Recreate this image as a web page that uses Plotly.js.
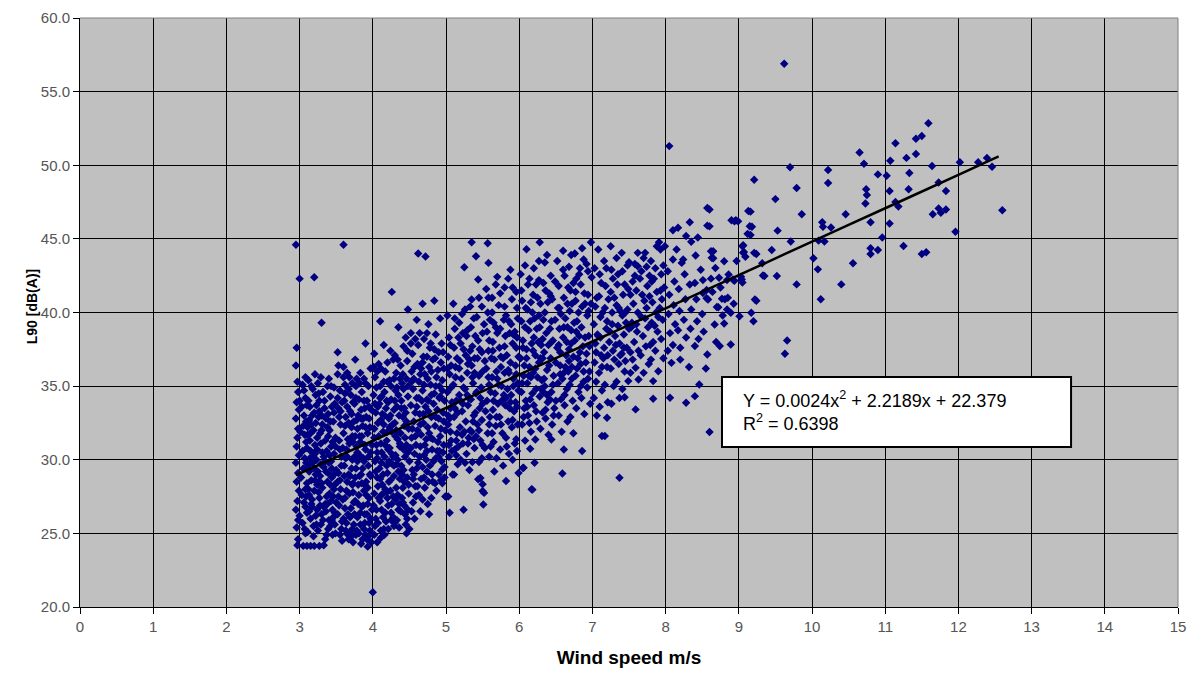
<!DOCTYPE html>
<html>
<head>
<meta charset="utf-8">
<script src="https://cdn.plot.ly/plotly-3.0.1.min.js"></script>
<style>html,body{margin:0;padding:0;background:#fff;}#chart{width:1196px;height:681px;}</style>
</head>
<body>
<div id="chart"></div>
<script>
// Measured points: [wind speed m/s, L90 dB(A)], grouped by wind-speed band
const band3 = [
[2.95,44.6],[3.0,42.3],[2.96,37.6],[2.95,36.4],[2.97,35.3],[2.98,34.6],[2.96,33.9],[2.99,33.4],[2.95,32.8],[2.98,32.1],[2.97,31.5],[2.96,30.9],[2.99,30.3],[2.95,29.8],[2.98,29.1],[2.96,28.5],[2.99,27.9],[2.97,27.2],[2.95,26.6],[2.98,25.9],[2.96,25.4],[2.98,24.6],[2.97,24.2],[3.0,34.0],[3.01,31.9],[3.02,28.8],[3.0,26.2],
[3.05,24.15],[3.1,24.15],[3.15,24.15],[3.2,24.15],[3.27,24.15],[3.33,24.2],[3.2,42.4],[3.3,39.3],[3.6,44.6],
[3.04,35.1],[3.08,34.2],[3.06,33.0],[3.05,32.3],[3.09,31.2],[3.07,30.1],[3.05,29.4],[3.08,28.0],[3.06,27.1],[3.1,26.4],[3.07,25.3],[3.12,35.4],[3.14,33.6],[3.13,32.7],[3.11,31.7],[3.15,30.6],[3.12,29.6],[3.16,28.6],[3.13,27.6],[3.15,26.0],[3.11,25.1],[3.18,34.8],[3.2,33.2],[3.19,32.0],[3.21,31.0],[3.18,30.2],[3.22,29.0],[3.2,27.9],[3.17,26.8],[3.23,25.6],[3.19,24.8],[3.25,35.2],[3.27,34.0],[3.26,32.9],[3.28,31.8],[3.24,30.7],[3.29,29.7],[3.26,28.5],[3.27,27.4],[3.3,26.3],[3.25,25.2],[3.32,34.6],[3.34,33.5],[3.31,32.4],[3.35,31.3],[3.33,30.2],[3.36,29.2],[3.31,28.1],[3.35,27.0],[3.32,25.9],[3.37,24.9],[3.4,35.5],[3.42,34.3],[3.39,33.1],[3.41,32.0],[3.43,30.9],[3.4,29.8],[3.44,28.8],[3.41,27.7],[3.45,26.6],[3.42,25.5],[3.47,34.9],[3.48,33.8],[3.46,32.6],[3.49,31.5],[3.47,30.4],[3.5,29.3],[3.48,28.3],[3.5,27.1],[3.46,26.1],[3.49,25.0],
[3.06,34.7],[3.1,33.7],[3.09,32.6],[3.14,31.3],[3.1,30.8],[3.13,29.2],[3.1,28.4],[3.17,27.3],[3.08,26.8],[3.22,34.4],[3.23,33.7],[3.16,32.4],[3.24,31.5],[3.21,30.4],[3.2,29.4],[3.24,28.3],[3.28,26.9],[3.3,33.0],[3.29,31.1],[3.37,30.6],[3.33,29.5],[3.38,28.5],[3.28,28.9],[3.37,27.5],[3.36,26.5],[3.44,33.6],[3.38,32.2],[3.45,31.2],[3.41,30.3],[3.44,29.4],[3.47,28.0],[3.43,27.2],[3.48,26.4],[3.4,25.9],[3.45,24.9],
[3.52,35.8],[3.55,34.7],[3.53,33.5],[3.56,32.4],[3.54,31.3],[3.57,30.2],[3.53,29.1],[3.56,28.0],[3.54,26.9],[3.58,25.8],[3.55,24.9],[3.6,36.3],[3.62,35.1],[3.61,34.0],[3.63,32.9],[3.6,31.8],[3.64,30.7],[3.61,29.6],[3.65,28.5],[3.62,27.4],[3.66,26.3],[3.63,25.2],[3.67,24.6],[3.68,35.6],[3.7,34.4],[3.69,33.3],[3.71,32.2],[3.68,31.1],[3.72,30.0],[3.69,28.9],[3.73,27.8],[3.7,26.7],[3.74,25.6],[3.71,24.8],[3.76,36.8],[3.77,35.0],[3.75,33.8],[3.78,32.7],[3.76,31.6],[3.79,30.5],[3.77,29.4],[3.8,28.3],[3.76,27.2],[3.79,26.1],[3.81,25.0],[3.83,35.9],[3.85,34.6],[3.84,33.4],[3.86,32.3],[3.83,31.2],[3.87,30.1],[3.84,29.0],[3.88,27.9],[3.85,26.8],[3.89,25.7],[3.86,24.6],[3.9,35.2],[3.92,34.0],[3.91,32.9],[3.93,31.8],[3.9,30.7],[3.94,29.6],[3.91,28.5],[3.95,27.4],[3.92,26.3],[3.96,25.2],[3.93,24.1],[3.97,36.2],[3.98,33.4],[3.99,31.0],[3.97,28.9],[3.99,26.6],[3.98,24.4],
[3.58,33.9],[3.54,32.9],[3.59,30.8],[3.57,29.6],[3.52,28.5],[3.59,27.3],[3.52,26.3],[3.65,33.6],[3.66,31.4],[3.63,30.1],[3.67,29.0],[3.64,27.9],[3.6,26.0],[3.66,24.9],[3.73,33.9],[3.74,32.6],[3.72,31.6],[3.75,30.2],[3.73,28.4],[3.74,27.1],[3.72,25.3],[3.81,34.1],[3.8,33.0],[3.82,31.6],[3.79,29.9],[3.82,28.9],[3.81,27.6],[3.83,26.4],[3.78,25.2],[3.88,34.0],[3.87,32.8],[3.89,31.0],[3.86,29.4],[3.89,28.3],[3.87,26.9],[3.88,25.3],[3.95,33.6],[3.96,32.2],[3.94,30.2],[3.96,29.0],[3.93,27.0],[3.95,25.7],[3.9,24.9],[3.52,37.3],[3.9,37.9],
[3.03,33.6],[3.04,30.6],[3.03,27.6],[3.04,25.7],[3.08,35.6],[3.07,31.7],[3.09,29.8],[3.09,27.5],[3.08,25.0],[3.12,34.0],[3.11,32.2],[3.14,30.1],[3.12,28.0],[3.13,26.5],[3.16,35.0],[3.17,33.0],[3.15,31.8],[3.18,29.8],[3.16,27.0],[3.19,25.5],[3.21,35.8],[3.22,32.5],[3.23,30.0],[3.21,28.6],[3.22,26.2],[3.26,34.5],[3.27,33.3],[3.25,29.2],[3.26,27.8],[3.24,26.6],[3.29,35.6],[3.3,32.0],[3.31,30.5],[3.3,28.4],[3.29,25.6],[3.34,34.0],[3.36,32.8],[3.35,29.9],[3.33,26.8],[3.35,24.6],[3.38,35.0],[3.39,31.6],[3.39,29.1],[3.38,27.0],[3.39,25.3],[3.43,35.0],[3.42,32.6],[3.43,29.9],[3.42,28.3],[3.44,25.9],[3.47,33.2],[3.49,30.9],[3.47,29.0],[3.46,27.5],[3.48,25.6],
[3.53,36.4],[3.52,34.2],[3.56,33.3],[3.55,30.7],[3.55,28.6],[3.53,27.5],[3.57,25.3],[3.58,24.5],[3.6,35.6],[3.62,34.5],[3.62,32.3],[3.61,28.9],[3.62,26.7],[3.64,25.7],[3.65,35.9],[3.67,34.8],[3.67,32.5],[3.65,30.2],[3.68,27.7],[3.69,26.1],[3.7,25.0],[3.72,35.2],[3.71,33.1],[3.73,31.2],[3.71,29.4],[3.72,28.3],[3.75,26.3],[3.73,24.4],[3.78,35.5],[3.77,34.2],[3.79,32.1],[3.78,30.9],[3.76,28.8],[3.8,27.0],[3.77,24.9],[3.82,35.2],[3.84,32.8],[3.85,31.6],[3.82,30.3],[3.85,28.4],[3.83,25.6],[3.84,24.3],[3.88,35.5],[3.89,33.5],[3.9,32.2],[3.88,29.9],[3.91,27.6],[3.89,26.3],[3.92,24.6],[3.94,35.0],[3.95,32.8],[3.97,30.5],[3.93,28.1],[3.97,26.0],[3.96,24.9]
];
const band4 = [
[4.0,21.0],
[4.02,37.2],[4.03,35.6],[4.01,34.4],[4.04,33.2],[4.02,32.1],[4.05,31.0],[4.03,29.9],[4.06,28.8],[4.02,27.7],[4.05,26.6],[4.03,25.5],[4.06,24.4],[4.08,36.5],[4.1,35.0],[4.09,33.8],[4.11,32.7],[4.08,31.6],[4.12,30.5],[4.09,29.4],[4.13,28.3],[4.1,27.2],[4.14,26.1],[4.11,25.2],[4.15,37.8],[4.17,36.0],[4.16,34.6],[4.18,33.5],[4.15,32.4],[4.19,31.3],[4.16,30.2],[4.2,29.1],[4.17,28.0],[4.21,26.9],[4.18,25.8],[4.16,24.9],[4.23,35.4],[4.25,34.1],[4.24,33.0],[4.26,31.9],[4.23,30.8],[4.27,29.7],[4.24,28.6],[4.28,27.5],[4.25,26.4],[4.29,25.5],[4.26,41.4],[4.3,37.1],[4.32,35.9],[4.31,34.7],[4.33,33.6],[4.3,32.5],[4.34,31.4],[4.31,30.3],[4.35,29.2],[4.32,28.1],[4.36,27.0],[4.33,25.9],[4.38,36.4],[4.4,35.2],[4.39,34.0],[4.41,32.9],[4.38,31.8],[4.42,30.7],[4.39,29.6],[4.43,28.5],[4.4,27.4],[4.44,26.3],[4.46,25.0],[4.45,38.3],[4.47,36.7],[4.46,35.5],[4.48,34.3],[4.45,33.2],[4.49,32.1],[4.46,31.0],[4.5,29.9],[4.47,28.8],[4.49,27.7],[4.48,26.6],
[4.05,34.9],[4.07,33.6],[4.06,30.5],[4.07,28.2],[4.04,26.0],[4.12,34.3],[4.13,33.1],[4.14,31.9],[4.12,29.8],[4.14,27.7],[4.12,26.6],[4.2,35.3],[4.21,33.9],[4.22,32.8],[4.21,30.7],[4.19,29.6],[4.22,28.5],[4.2,27.4],[4.28,36.8],[4.29,33.4],[4.27,32.4],[4.28,30.2],[4.29,28.9],[4.26,27.0],[4.35,34.4],[4.36,33.0],[4.37,31.1],[4.34,30.0],[4.37,28.7],[4.35,26.6],[4.42,34.8],[4.43,33.5],[4.44,31.5],[4.42,29.3],[4.41,28.1],[4.43,26.9],[4.3,25.7],[4.1,39.4],[4.35,39.0],[4.48,40.2],
[4.52,38.6],[4.54,37.2],[4.53,36.0],[4.55,34.8],[4.52,33.7],[4.56,32.6],[4.53,31.5],[4.57,30.4],[4.54,29.3],[4.58,28.2],[4.55,27.1],[4.57,26.0],[4.62,44.0],[4.6,39.5],[4.62,37.8],[4.61,36.5],[4.63,35.3],[4.6,34.2],[4.64,33.1],[4.61,32.0],[4.65,30.9],[4.62,29.8],[4.66,28.7],[4.63,27.6],[4.65,26.5],[4.72,43.8],[4.68,40.6],[4.7,38.2],[4.69,37.0],[4.71,35.8],[4.68,34.7],[4.72,33.6],[4.69,32.5],[4.73,31.4],[4.7,30.3],[4.74,29.2],[4.71,28.1],[4.75,27.0],[4.77,26.3],[4.76,39.2],[4.78,37.6],[4.77,36.3],[4.79,35.1],[4.76,34.0],[4.8,32.9],[4.77,31.8],[4.81,30.7],[4.78,29.6],[4.82,28.5],[4.8,27.4],[4.84,40.8],[4.86,38.5],[4.85,36.9],[4.87,35.6],[4.84,34.5],[4.88,33.4],[4.85,32.3],[4.89,31.2],[4.86,30.1],[4.9,29.0],[4.87,27.9],[4.92,39.6],[4.94,37.9],[4.93,36.6],[4.95,35.4],[4.92,34.3],[4.96,33.2],[4.93,32.1],[4.97,31.0],[4.94,29.9],[4.98,28.8],[4.95,29.34],[4.95,28.4],[4.99,27.5],
[4.56,35.5],[4.58,33.2],[4.59,31.0],[4.56,29.0],[4.66,36.2],[4.67,34.0],[4.66,31.7],[4.68,29.5],[4.74,37.0],[4.74,34.1],[4.75,32.2],[4.73,30.0],[4.82,36.8],[4.83,33.8],[4.82,31.4],[4.83,29.9],[4.9,37.3],[4.91,35.0],[4.9,32.8],[4.91,30.6],[4.97,36.2],[4.98,34.0],[4.99,32.0],[4.5,25.3],
[4.01,36.3],[4.03,33.8],[4.02,31.5],[4.04,29.2],[4.01,26.9],[4.02,24.9],[4.06,36.0],[4.07,32.5],[4.06,30.1],[4.08,27.4],[4.07,25.7],[4.11,36.2],[4.1,34.2],[4.11,31.1],[4.1,28.7],[4.12,27.6],[4.11,24.7],[4.15,35.3],[4.16,33.0],[4.17,31.0],[4.14,29.0],[4.17,26.4],[4.15,25.3],[4.2,36.6],[4.19,34.0],[4.2,31.9],[4.22,29.9],[4.19,27.8],[4.21,25.3],[4.24,37.4],[4.25,35.0],[4.23,32.2],[4.26,30.4],[4.24,27.9],[4.25,25.9],[4.29,35.5],[4.3,34.0],[4.31,31.6],[4.29,29.6],[4.31,27.3],[4.28,26.1],[4.34,36.8],[4.33,34.9],[4.32,32.0],[4.33,29.7],[4.34,27.6],[4.36,25.4],[4.37,35.5],[4.39,33.5],[4.37,30.9],[4.4,29.0],[4.38,26.5],[4.42,37.7],[4.41,35.8],[4.43,32.3],[4.44,30.2],[4.41,27.1],[4.45,25.6],[4.47,37.4],[4.48,35.0],[4.46,32.6],[4.48,30.5],[4.49,28.3],[4.47,26.0],
[4.52,37.9],[4.53,35.3],[4.54,32.1],[4.52,30.8],[4.55,28.7],[4.53,26.5],[4.58,38.2],[4.57,36.3],[4.6,33.6],[4.58,31.6],[4.6,29.4],[4.59,27.5],[4.64,38.6],[4.65,35.8],[4.63,34.2],[4.65,32.4],[4.64,30.2],[4.61,28.2],[4.68,36.6],[4.7,35.1],[4.69,33.1],[4.71,31.0],[4.7,28.8],[4.68,27.3],[4.74,38.6],[4.75,35.5],[4.76,33.3],[4.74,30.6],[4.76,28.5],[4.79,37.9],[4.8,36.0],[4.8,34.4],[4.79,31.5],[4.81,29.0],[4.84,37.5],[4.86,35.0],[4.86,32.9],[4.88,30.6],[4.85,28.4],[4.89,36.1],[4.91,34.2],[4.92,31.6],[4.9,30.2],[4.93,28.6],[4.96,37.3],[4.95,34.7],[4.97,32.6],[4.96,30.5],[4.98,29.5]
];
const band5 = [
[5.02,39.8],[5.04,38.3],[5.03,37.0],[5.05,35.8],[5.02,34.6],[5.06,33.5],[5.03,32.4],[5.07,31.3],[5.04,30.2],[5.09,29.0],[5.05,26.4],[5.03,27.5],[5.1,40.6],[5.12,38.9],[5.11,37.6],[5.13,36.3],[5.1,35.1],[5.14,34.0],[5.11,32.9],[5.15,31.8],[5.12,30.7],[5.11,28.99],[5.16,29.7],[5.18,39.3],[5.2,37.9],[5.19,36.7],[5.21,35.5],[5.18,34.4],[5.22,33.3],[5.19,32.2],[5.23,31.1],[5.2,30.0],[5.24,26.6],[5.25,43.08],[5.26,40.2],[5.28,38.4],[5.27,37.1],[5.29,35.9],[5.26,34.8],[5.3,33.7],[5.27,32.6],[5.31,31.5],[5.28,30.4],[5.32,29.3],[5.35,44.77],[5.35,40.88],[5.34,39.0],[5.36,37.7],[5.35,36.4],[5.37,35.2],[5.34,34.1],[5.38,33.0],[5.35,31.9],[5.39,30.8],[5.36,29.84],[5.41,43.82],[5.44,42.24],[5.42,39.7],[5.44,38.1],[5.43,36.9],[5.45,35.7],[5.42,34.6],[5.46,33.5],[5.43,32.4],[5.47,31.3],[5.45,29.84],[5.44,28.67],[5.47,28.76],[5.5,27.88],[5.5,28.33],[5.51,26.96],[5.52,27.75],[5.49,40.4],[5.5,38.6],[5.49,37.3],[5.5,36.0],[5.48,34.9],[5.5,33.8],[5.49,32.7],[5.5,31.0],[5.49,30.1],
[5.07,36.4],[5.08,33.9],[5.06,31.9],[5.15,36.9],[5.16,33.2],[5.14,30.3],[5.23,38.6],[5.24,34.9],[5.22,31.7],[5.32,36.8],[5.31,34.2],[5.33,32.0],[5.4,38.4],[5.39,35.9],[5.4,33.2],[5.41,31.6],[5.57,44.7],
[5.58,43.37],[5.55,41.6],[5.57,40.0],[5.56,38.7],[5.58,37.4],[5.55,36.2],[5.59,35.1],[5.56,34.0],[5.6,32.9],[5.57,31.8],[5.61,30.9],[5.59,30.2],[5.7,42.42],[5.63,41.0],[5.65,39.3],[5.64,38.0],[5.66,36.8],[5.63,35.6],[5.67,34.5],[5.64,33.4],[5.68,32.3],[5.65,31.2],[5.69,30.1],[5.66,29.2],[5.72,40.5],[5.74,38.9],[5.73,37.6],[5.75,36.3],[5.72,35.1],[5.76,34.0],[5.73,32.9],[5.77,31.8],[5.74,30.7],[5.78,29.6],[5.82,28.55],[5.8,41.7],[5.82,39.8],[5.81,38.4],[5.83,37.1],[5.8,35.9],[5.84,34.8],[5.81,33.7],[5.85,32.6],[5.82,31.5],[5.86,30.4],[5.88,42.9],[5.9,40.9],[5.89,39.2],[5.91,37.9],[5.88,36.6],[5.92,35.5],[5.89,34.4],[5.93,33.3],[5.9,32.2],[5.94,31.1],[5.91,30.0],[5.96,41.4],[5.98,39.6],[5.97,38.3],[5.99,37.0],[5.96,35.8],[5.99,34.7],[5.97,33.6],[5.98,32.4],[5.96,31.4],[5.99,29.1],
[5.6,39.5],[5.62,36.9],[5.61,34.6],[5.7,38.6],[5.69,36.0],[5.71,33.8],[5.79,39.5],[5.78,36.9],[5.79,34.4],[5.87,38.6],[5.86,35.9],[5.87,33.5],[5.94,38.7],[5.95,36.4],[5.95,33.9],
[5.02,36.2],[5.03,33.0],[5.04,31.0],[5.06,37.8],[5.07,34.9],[5.05,32.8],[5.08,30.6],[5.12,39.6],[5.13,35.6],[5.12,33.5],[5.14,31.3],[5.17,38.3],[5.18,36.2],[5.2,34.0],[5.17,30.9],[5.22,39.9],[5.24,37.5],[5.23,33.8],[5.25,31.9],[5.26,29.8],[5.29,38.8],[5.3,36.5],[5.29,34.4],[5.3,31.1],[5.33,40.4],[5.33,37.4],[5.36,35.6],[5.37,32.6],[5.38,39.6],[5.39,36.9],[5.41,34.5],[5.38,31.4],[5.45,41.0],[5.46,37.5],[5.47,34.2],[5.45,32.0],[5.52,39.2],[5.53,36.7],[5.54,33.3],[5.53,30.8],[5.58,41.0],[5.59,38.1],[5.58,35.6],[5.59,32.4],[5.63,40.0],[5.64,37.4],[5.65,34.0],[5.63,31.8],[5.68,41.9],[5.68,39.0],[5.7,35.5],[5.69,32.9],[5.74,41.3],[5.75,37.0],[5.76,35.0],[5.75,32.4],[5.8,40.4],[5.8,37.7],[5.82,34.2],[5.83,30.9],[5.85,42.3],[5.86,39.4],[5.85,36.1],[5.88,33.9],[5.91,41.7],[5.92,38.5],[5.92,35.0],[5.91,32.7],[5.97,40.3],[5.96,37.6],[5.98,35.2],[5.97,30.6]
];
const band6 = [
[6.02,42.6],[6.04,40.8],[6.03,39.4],[6.05,38.1],[6.02,36.9],[6.06,35.7],[6.03,34.6],[6.07,33.5],[6.04,32.4],[6.08,31.3],[6.05,29.44],[6.06,29.46],[6.1,44.3],[6.12,41.9],[6.11,40.2],[6.13,38.8],[6.1,37.5],[6.14,36.3],[6.11,35.2],[6.15,34.1],[6.12,33.0],[6.16,31.9],[6.15,30.75],[6.17,28.0],[6.18,27.97],[6.2,43.0],[6.19,41.2],[6.21,39.6],[6.2,38.3],[6.22,37.1],[6.19,35.9],[6.23,34.8],[6.2,33.7],[6.24,32.6],[6.22,31.38],[6.21,29.8],[6.28,44.77],[6.27,42.2],[6.29,40.6],[6.28,39.0],[6.3,37.8],[6.27,36.6],[6.31,35.4],[6.28,34.3],[6.32,33.2],[6.29,32.1],[6.35,43.4],[6.36,41.5],[6.35,40.0],[6.37,38.6],[6.34,37.3],[6.38,36.1],[6.35,35.0],[6.39,33.9],[6.36,32.8],[6.4,31.7],[6.44,31.38],[6.43,42.5],[6.45,40.9],[6.44,39.4],[6.46,38.1],[6.43,36.9],[6.47,35.7],[6.44,34.6],[6.48,33.5],[6.45,32.4],
[6.08,39.0],[6.07,36.4],[6.09,34.0],[6.16,40.7],[6.17,37.9],[6.16,35.6],[6.25,41.0],[6.26,38.0],[6.25,35.6],[6.33,39.5],[6.32,36.9],[6.33,34.6],[6.41,41.3],[6.42,38.9],[6.41,36.4],[6.42,34.1],
[6.52,43.5],[6.54,41.8],[6.53,40.3],[6.55,38.9],[6.52,37.6],[6.56,36.4],[6.53,35.2],[6.57,34.1],[6.54,33.0],[6.58,31.9],[6.61,30.7],[6.59,29.07],[6.6,44.2],[6.62,42.5],[6.61,41.0],[6.63,39.6],[6.6,38.3],[6.64,37.1],[6.61,35.9],[6.65,34.8],[6.62,33.7],[6.66,32.6],[6.68,43.1],[6.7,41.5],[6.69,40.1],[6.71,38.8],[6.68,37.5],[6.72,36.3],[6.69,35.1],[6.73,34.0],[6.7,32.9],[6.74,31.8],[6.76,44.0],[6.78,42.3],[6.77,40.8],[6.79,39.4],[6.76,38.1],[6.8,36.9],[6.77,35.7],[6.81,34.6],[6.78,33.5],[6.86,44.37],[6.84,41.9],[6.86,40.4],[6.85,39.0],[6.87,37.7],[6.84,36.5],[6.88,35.3],[6.85,34.2],[6.89,33.1],[6.86,30.59],[6.92,43.3],[6.94,41.2],[6.93,39.8],[6.95,38.4],[6.92,37.2],[6.96,36.0],[6.93,34.9],[6.97,33.8],[6.98,44.77],[6.99,42.4],[6.98,40.6],
[6.57,39.9],[6.56,37.3],[6.59,35.5],[6.66,40.6],[6.65,38.0],[6.67,36.0],[6.74,42.0],[6.75,39.3],[6.74,37.0],[6.83,43.0],[6.82,38.4],[6.9,40.6],[6.91,36.6],
[6.03,41.5],[6.05,37.6],[6.04,35.2],[6.06,32.9],[6.08,43.2],[6.09,40.3],[6.1,36.9],[6.11,33.6],[6.14,42.3],[6.15,39.4],[6.13,35.7],[6.14,32.5],[6.18,40.0],[6.19,37.4],[6.18,34.5],[6.23,41.9],[6.24,38.9],[6.22,36.2],[6.23,33.3],[6.27,43.5],[6.27,39.8],[6.29,36.9],[6.3,34.8],[6.33,42.0],[6.32,38.2],[6.34,35.5],[6.36,33.4],[6.38,43.9],[6.39,40.7],[6.4,37.8],[6.38,34.4],[6.43,41.1],[6.44,38.0],[6.46,35.1],[6.47,33.0],[6.49,42.1],[6.49,39.5],[6.5,36.6],[6.5,34.0],[6.55,40.3],[6.54,37.8],[6.56,35.8],[6.6,42.9],[6.61,39.0],[6.63,36.3],[6.62,34.4],[6.67,41.7],[6.66,39.0],[6.68,36.7],[6.71,43.9],[6.72,40.6],[6.71,37.9],[6.72,35.5],[6.77,41.4],[6.78,38.7],[6.79,36.2],[6.82,42.6],[6.81,40.0],[6.83,37.3],[6.84,35.0],[6.88,43.6],[6.89,41.3],[6.9,38.3],[6.88,36.0],[6.94,42.8],[6.95,40.1],[6.96,37.7],[6.94,35.5]
];
const band7 = [
[7.02,39.2],[7.04,37.9],[7.03,36.6],[7.05,35.3],[7.02,34.2],[7.06,33.0],[7.08,44.28],[7.1,42.6],[7.09,41.1],[7.11,39.7],[7.08,38.4],[7.12,37.1],[7.09,35.9],[7.13,34.7],[7.1,33.6],[7.13,31.61],[7.17,31.61],[7.2,32.85],[7.16,43.5],[7.18,41.8],[7.17,40.3],[7.19,38.9],[7.16,37.6],[7.2,36.3],[7.17,35.1],[7.21,33.9],[7.25,44.5],[7.26,42.9],[7.25,41.4],[7.27,40.0],[7.24,38.7],[7.28,37.4],[7.25,36.2],[7.29,35.0],[7.26,33.8],[7.33,43.7],[7.34,41.9],[7.33,40.5],[7.35,39.1],[7.32,37.8],[7.36,36.5],[7.33,35.3],[7.37,34.2],[7.37,28.78],[7.4,44.05],[7.41,42.8],[7.42,41.2],[7.41,39.8],[7.43,38.5],[7.4,37.2],[7.44,36.0],[7.41,34.8],[7.44,34.25],[7.48,43.2],[7.5,43.42],[7.49,41.6],[7.48,40.2],[7.5,38.9],[7.47,37.6],[7.49,35.34],[7.52,35.9],
[7.06,41.0],[7.07,38.5],[7.14,40.0],[7.15,36.9],[7.22,40.9],[7.23,38.0],[7.3,41.0],[7.31,38.4],[7.38,40.1],[7.38,37.1],[7.46,39.3],[7.45,36.7],
[7.62,44.05],[7.72,44.05],[7.62,43.14],[7.91,44.77],[7.88,44.5],[7.93,44.28],[7.59,33.42],[7.63,35.45],[7.59,36.24],[7.83,34.14],[7.83,35.34],[7.9,36.01],[7.55,42.1],[7.56,40.6],[7.54,39.3],[7.57,38.0],[7.55,36.8],[7.6,41.5],[7.62,40.0],[7.61,38.7],[7.63,37.4],[7.67,42.8],[7.68,41.2],[7.67,39.7],[7.69,38.4],[7.66,37.1],[7.7,35.9],[7.74,43.1],[7.75,41.8],[7.74,40.3],[7.76,39.0],[7.73,37.7],[7.77,36.5],[7.8,43.5],[7.81,42.1],[7.82,40.7],[7.81,39.3],[7.83,38.0],[7.8,36.8],[7.86,43.0],[7.88,41.4],[7.87,40.0],[7.89,38.7],[7.86,37.4],[7.94,42.6],[7.95,40.9],[7.96,39.5],[7.94,38.2],[7.97,36.9],[7.99,44.5],[7.98,41.7],
[7.58,43.3],[7.65,42.3],[7.71,40.8],[7.78,42.5],[7.85,39.1],[7.92,40.3],[7.97,43.2],
[7.03,43.0],[7.04,40.4],[7.05,37.3],[7.12,42.0],[7.11,38.3],[7.13,36.3],[7.19,43.0],[7.2,39.4],[7.21,37.1],[7.28,42.3],[7.27,39.2],[7.3,36.8],[7.35,42.6],[7.36,40.3],[7.37,37.9],[7.44,41.9],[7.45,40.0],[7.43,37.6],[7.52,41.2],[7.53,39.0],[7.52,37.3],[7.58,42.5],[7.6,39.2],[7.7,43.7],[7.72,39.6],[7.78,41.1],[7.79,37.8],[7.84,42.3],[7.9,39.7],[7.93,41.5]
];
const band8 = [
[8.05,51.3],[8.57,47.1],[8.33,46.13],[8.17,45.75],[8.1,45.59],[8.57,45.9],[8.6,47.0],[8.6,45.85],[8.15,44.28],[8.24,43.6],[8.22,43.37],[8.41,43.87],[8.62,44.16],[8.63,43.71],[8.8,43.48],[8.86,42.58],[8.92,42.24],[8.65,44.16],[8.65,43.68],[8.68,43.02],[8.51,42.2],[8.73,42.36],[8.84,42.2],[8.94,42.16],[8.94,46.2],[8.99,46.2],[8.96,46.27],[8.9,46.27],[8.56,41.53],[8.56,40.97],[8.81,40.9],[8.72,40.35],[8.84,40.2],[8.4,42.01],[8.51,41.33],[8.58,40.88],[8.77,40.93],[8.7,40.38],[8.67,39.19],[8.8,39.25],[8.89,39.98],[8.89,37.83],[8.74,37.72],[8.57,37.15],[8.4,37.72],[8.2,36.8],[8.08,36.58],[8.46,35.11],[8.4,34.32],[8.28,33.87],[8.06,34.21],[8.6,31.88],
[8.03,42.8],[8.05,41.2],[8.04,39.9],[8.06,38.6],[8.03,37.4],[8.1,43.6],[8.12,42.1],[8.11,40.5],[8.13,39.2],[8.1,37.8],[8.18,41.6],[8.19,40.1],[8.17,38.8],[8.2,37.6],[8.26,42.6],[8.27,40.9],[8.25,39.5],[8.28,38.3],[8.33,41.9],[8.35,40.2],[8.34,38.9],[8.32,36.3],[8.42,40.9],[8.43,39.4],[8.45,38.2],[8.48,42.9],[8.5,39.9],[8.52,38.7],[8.55,36.2],[8.62,42.3],[8.64,41.4],[8.69,38.0],[8.75,41.7],[8.78,39.8],[8.85,41.0],[8.93,40.6],[8.97,43.5],[8.35,44.8],[8.44,45.1],[8.28,45.2]
];
const band9 = [
[9.62,56.9],[9.21,49.02],[9.7,49.86],[9.5,47.7],[9.79,48.45],[9.16,46.85],[9.86,46.67],[9.18,45.83],[9.16,45.27],[9.53,45.56],[9.71,44.82],[9.06,44.56],[9.07,44.11],[9.09,43.79],[9.24,43.97],[9.45,44.24],[9.03,42.43],[9.05,42.03],[9.32,43.34],[9.35,42.48],[9.52,42.48],[9.79,41.91],[9.24,40.8],[9.13,46.9],[9.15,45.86],[9.12,45.34],[9.05,44.5],[9.06,44.05],[9.21,44.05],[9.33,42.51],[9.04,42.24],[9.22,40.88],[9.17,39.98],[9.2,39.41],[9.01,39.75],[9.63,37.2],[9.66,38.1],[9.56,34.9]
];
const band10 = [
[10.22,49.68],[10.22,48.8],[10.02,43.68],[10.08,42.93],[10.09,44.88],[10.17,44.82],[10.14,46.13],[10.15,45.83],[10.26,45.77],[10.4,41.91],[10.12,40.9],[10.56,43.34],[10.46,46.67],[10.65,50.87],[10.71,50.1],[10.74,48.37],[10.75,47.98],[10.73,47.4],[10.8,46.13],[10.8,44.36],[10.8,43.97],[10.9,44.24],[10.9,49.38],[11.02,49.29],[10.96,45.1],[11.07,50.3],[11.06,48.25],[11.06,46.04],[11.14,51.5],[11.14,47.5],[11.18,47.2],[11.25,44.52],[11.29,50.5],[11.33,49.47],[11.32,48.37],[11.42,51.8],[11.42,50.76],[11.5,51.99],[11.5,43.97],[11.56,44.09],[11.59,52.85],[11.64,49.95],[11.65,46.67],[11.73,48.83],[11.73,47.07],[11.76,46.78],[11.83,48.25],[11.83,47.0],[11.96,45.49],[12.02,50.2],[12.27,50.2],[12.39,50.5],[12.46,49.9],[12.6,46.94]
];

// Polynomial trendline values as printed on the chart (Y = 0.0024x^2 + 2.2189x + 22.379)
const trendSpeed = [2.95, 4, 5, 6, 7, 8, 9, 10, 11, 12, 12.55];
const trendLevel = [28.95, 31.29, 33.53, 35.78, 38.03, 40.28, 42.54, 44.81, 47.08, 49.35, 50.60];

const xTickVals = [0,1,2,3,4,5,6,7,8,9,10,11,12,13,14,15];
const yTickVals = [20,25,30,35,40,45,50,55,60];
const xTitle = 'Wind speed m/s';
const yTitle = 'L90 [dB(A)]';
const eqText = 'Y = 0.0024x<sup>2</sup> + 2.2189x + 22.379<br>R<sup>2</sup> = 0.6398';

const allPts = [].concat(band3, band4, band5, band6, band7, band8, band9, band10);
const windSpeed = allPts.map(p => p[0]);
const l90 = allPts.map(p => p[1]);

const font = 'Liberation Sans, Arial, sans-serif';

const traces = [
  {
    type: 'scatter', mode: 'markers', x: windSpeed, y: l90,
    marker: {symbol: 'diamond', size: 6.5, color: '#000080'},
    hoverinfo: 'x+y', showlegend: false
  },
  {
    type: 'scatter', mode: 'lines', x: trendSpeed, y: trendLevel,
    line: {color: '#000000', width: 2.5, shape: 'spline'},
    showlegend: false
  }
];

const layout = {
  width: 1196, height: 681,
  paper_bgcolor: '#ffffff', plot_bgcolor: '#c0c0c0',
  margin: {l: 80, r: 18, t: 18, b: 74},
  showlegend: false,
  font: {family: font, color: '#000'},
  xaxis: {
    range: [0, 15], tickvals: xTickVals, ticktext: xTickVals.map(String),
    showgrid: true, gridcolor: '#000', gridwidth: 1,
    showline: true, linecolor: '#000', linewidth: 1,
    ticks: 'outside', ticklen: 6, tickcolor: '#000', tickwidth: 1,
    zeroline: false,
    tickfont: {family: font, size: 15, color: '#555'},
    title: {text: xTitle, font: {family: font, size: 19, color: '#000', weight: 'bold'}, standoff: 16}
  },
  yaxis: {
    range: [20, 60], tickvals: yTickVals, ticktext: yTickVals.map(v => v.toFixed(1)),
    showgrid: true, gridcolor: '#000', gridwidth: 1,
    showline: true, linecolor: '#000', linewidth: 1,
    ticks: 'outside', ticklen: 6, tickcolor: '#000', tickwidth: 1,
    zeroline: false,
    tickfont: {family: font, size: 15, color: '#555'}
  },
  shapes: [
    {type: 'rect', xref: 'paper', yref: 'paper', x0: 0.5847, x1: 0.9026, y0: 0.2716, y1: 0.3905,
     fillcolor: '#ffffff', line: {color: '#000', width: 2}, layer: 'above'},
    {type: 'line', xref: 'paper', yref: 'paper', x0: 0, x1: 1, y0: 1, y1: 1, line: {color: '#808080', width: 1}, layer: 'above'},
    {type: 'line', xref: 'paper', yref: 'paper', x0: 1, x1: 1, y0: 0, y1: 1, line: {color: '#808080', width: 1}, layer: 'above'}
  ],
  annotations: [
    {xref: 'paper', yref: 'paper', x: 0.602, y: 0.333, xanchor: 'left', yanchor: 'middle',
     text: eqText, showarrow: false, align: 'left',
     font: {family: font, size: 18, color: '#000'}},
    {xref: 'paper', yref: 'paper', x: -0.0437, y: 0.509, xanchor: 'center', yanchor: 'middle',
     text: yTitle, textangle: -90, showarrow: false,
     font: {family: font, size: 14, color: '#000', weight: 'bold'}}
  ]
};

Plotly.newPlot('chart', traces, layout, {displayModeBar: false, staticPlot: true});
</script>
</body>
</html>
